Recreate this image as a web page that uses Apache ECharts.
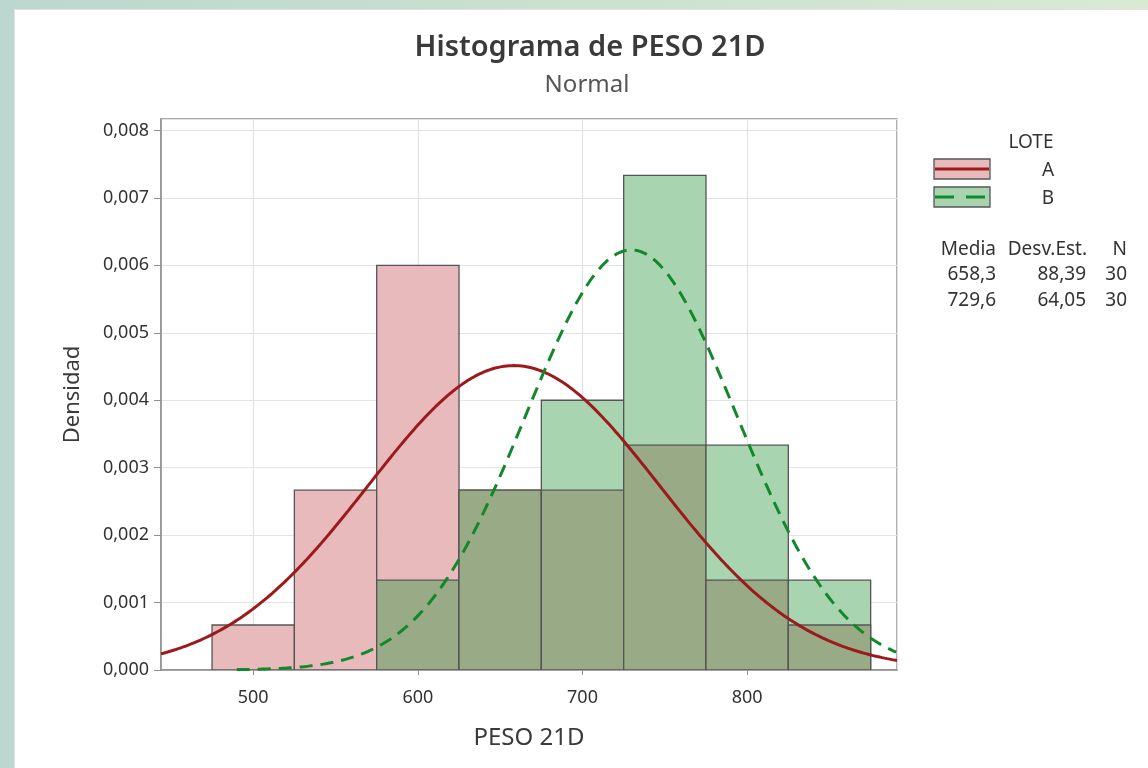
<!DOCTYPE html>
<html>
<head>
<meta charset="utf-8">
<script src="https://cdn.jsdelivr.net/npm/echarts@6/dist/echarts.min.js"></script>
<style>
  html, body { margin: 0; padding: 0; width: 1148px; height: 768px; overflow: hidden; }
  body { background: linear-gradient(90deg, #bcd7cf 0%, #c9e0d1 45%, #d8ead2 100%); position: relative; }
  #card { position: absolute; left: 14px; top: 9px; right: 0; bottom: 0; background: #fff; border: 1px solid #e3dfe3; border-right: none; border-bottom: none; }
  #chart { position: absolute; left: 0; top: 0; width: 1148px; height: 768px; }
</style>
</head>
<body>
<div id="card"></div>
<div id="chart"></div>
<script>
// ---- data ----
const binCenters = [500, 550, 600, 650, 700, 750, 800, 850];
const binWidth = 50;
const densityA = [0.000667, 0.002667, 0.006, 0.002667, 0.002667, 0.003333, 0.001333, 0.000667];
const densityB = [0, 0, 0.001333, 0.002667, 0.004, 0.007333, 0.003333, 0.001333];
const groups = ['A', 'B'];
const means = [658.3, 729.6];
const stdevs = [88.39, 64.05];
const counts = [30, 30];
const meanLabels = ['658,3', '729,6'];
const sdLabels = ['88,39', '64,05'];
const curveStart = [444, 490];
const xMin = 444, xMax = 891;
const yMax = 0.00817;

// ---- styles ----
const colA = '#e8babb', colB = '#a8d5b0', colBoth = '#99aa86';
const lineA = '#9c1a1c', lineB = '#13882b';
const edge = '#555555';
const font = '"Noto Sans", "Open Sans", sans-serif';
const legFont = '19px ' + font;

function normalCurve(mu, sd, from, to) {
  const pts = [];
  for (let x = from; x <= to + 0.001; x += 1.5) {
    const z = (x - mu) / sd;
    pts.push([x, Math.exp(-0.5 * z * z) / (sd * Math.sqrt(2 * Math.PI))]);
  }
  return pts;
}

const histData = binCenters.map((c, i) => [c, densityA[i], densityB[i]]);

function txt(x, y, s, align, f) {
  return { type: 'text', x: x, y: y, style: { text: s, font: f || legFont, fill: '#333', textAlign: align, textVerticalAlign: 'middle' } };
}

const chart = echarts.init(document.getElementById('chart'));
chart.setOption({
  backgroundColor: 'transparent',
  animation: false,
  textStyle: { fontFamily: font },
  grid: { left: 161, right: 251, top: 119, bottom: 98, show: true, borderColor: '#8f8f8f', borderWidth: 1.5, backgroundColor: 'transparent' },
  xAxis: {
    type: 'value', min: xMin, max: xMax, splitNumber: 5,
    name: 'PESO 21D', nameLocation: 'middle', nameGap: 56,
    nameTextStyle: { fontSize: 24, color: '#3a3a3a', fontFamily: font },
    axisLine: { show: true, lineStyle: { color: '#8f8f8f', width: 1.5 } },
    axisTick: { show: true, length: 5, lineStyle: { color: '#8f8f8f' } },
    axisLabel: { fontSize: 18, color: '#333', margin: 19, showMinLabel: false, showMaxLabel: false, fontFamily: font },
    splitLine: { show: true, lineStyle: { color: '#e3e3e3', width: 1.2 } }
  },
  yAxis: {
    type: 'value', min: 0, max: yMax, interval: 0.001,
    name: 'Densidad', nameLocation: 'middle', nameGap: 77,
    nameTextStyle: { fontSize: 22, color: '#3a3a3a', fontFamily: font },
    axisLine: { show: true, lineStyle: { color: '#8f8f8f', width: 1.5 } },
    axisTick: { show: true, length: 7, lineStyle: { color: '#8f8f8f' } },
    axisLabel: {
      fontSize: 18, color: '#333', margin: 12, showMaxLabel: false, fontFamily: font,
      formatter: v => v.toFixed(3).replace('.', ',')
    },
    splitLine: { show: true, lineStyle: { color: '#e3e3e3', width: 1.2 } }
  },
  series: [
    {
      type: 'custom',
      clip: true,
      data: histData,
      z: 2,
      renderItem: function (params, api) {
        const c = api.value(0), a = api.value(1), b = api.value(2);
        const p0 = api.coord([c - binWidth / 2, 0]);
        const p1 = api.coord([c + binWidth / 2, 0]);
        const w = p1[0] - p0[0];
        const children = [];
        function rect(v, fill) {
          const top = api.coord([c, v])[1];
          children.push({
            type: 'rect',
            shape: { x: p0[0], y: top, width: w, height: p0[1] - top },
            style: { fill: fill, stroke: edge, lineWidth: 1.3 }
          });
        }
        if (a > 0 && b > 0) {
          if (a >= b) { rect(a, colA); rect(b, colBoth); }
          else { rect(b, colB); rect(a, colBoth); }
        } else if (a > 0) {
          rect(a, colA);
        } else if (b > 0) {
          rect(b, colB);
        }
        return { type: 'group', children: children };
      }
    },
    {
      type: 'line', name: groups[0], showSymbol: false, z: 5, clip: true,
      data: normalCurve(means[0], stdevs[0], curveStart[0], xMax),
      lineStyle: { color: lineA, width: 3 }
    },
    {
      type: 'line', name: groups[1], showSymbol: false, z: 6, clip: true,
      data: normalCurve(means[1], stdevs[1], curveStart[1], xMax),
      lineStyle: { color: lineB, width: 3, type: [13, 8] }
    }
  ],
  graphic: [
    { type: 'text', x: 590, y: 48, style: { text: 'Histograma de PESO 21D', font: '600 29px ' + font, fill: '#3a3a3a', textAlign: 'center', textVerticalAlign: 'middle' } },
    { type: 'text', x: 587, y: 85, style: { text: 'Normal', font: '24px ' + font, fill: '#555', textAlign: 'center', textVerticalAlign: 'middle' } },
    // legend
    txt(1031, 143, 'LOTE', 'center'),
    { type: 'rect', shape: { x: 934, y: 159, width: 56, height: 20 }, style: { fill: colA, stroke: edge, lineWidth: 1.3 } },
    { type: 'line', shape: { x1: 935, y1: 169, x2: 989, y2: 169 }, style: { stroke: lineA, lineWidth: 3 } },
    txt(1048, 171, groups[0], 'center'),
    { type: 'rect', shape: { x: 934, y: 187, width: 56, height: 20 }, style: { fill: colB, stroke: edge, lineWidth: 1.3 } },
    { type: 'line', shape: { x1: 935, y1: 197, x2: 989, y2: 197 }, style: { stroke: lineB, lineWidth: 3, lineDash: [19, 12] } },
    txt(1048, 199, groups[1], 'center'),
    // stats table
    txt(996, 250, 'Media', 'right'),
    txt(1087, 250, 'Desv.Est.', 'right'),
    txt(1127, 250, 'N', 'right'),
    txt(996, 275, meanLabels[0], 'right'),
    txt(1086, 275, sdLabels[0], 'right'),
    txt(1127, 275, String(counts[0]), 'right'),
    txt(996, 301, meanLabels[1], 'right'),
    txt(1086, 301, sdLabels[1], 'right'),
    txt(1127, 301, String(counts[1]), 'right')
  ]
});
</script>
</body>
</html>
